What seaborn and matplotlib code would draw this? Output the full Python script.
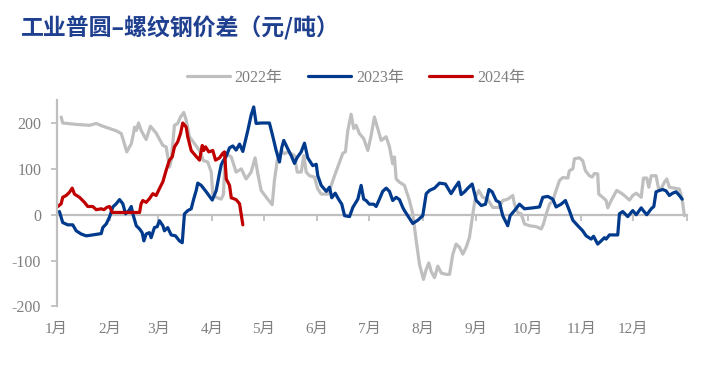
import matplotlib
matplotlib.use("Agg")
import matplotlib.pyplot as plt
import seaborn as sns
import pandas as pd

# ---- data (day of year, spread in 元/吨) ----
day_2022 = [2.7, 3.6, 11.4, 19.1, 23, 26.8, 34.6, 37.5, 38.4, 40.7, 43.3, 44.2, 45.2, 46.3, 47.5, 49, 51.9,
            54.4, 57.7, 61.6, 63.5, 65.4, 66.4, 68.3, 70.2, 71.8, 73.7, 75.1, 77, 79.9, 82.8, 85.1, 87.6,
            89.6, 90.5, 92.5, 95.4, 96.7, 97.3, 98.3, 101.2, 104, 107, 109.8, 112.7, 115, 116.6, 118.5,
            122.3, 124.9, 126.2, 127.8, 130.1, 132, 133.9, 135.9, 137.8, 139.4, 141.7, 143.2, 144.6, 146.5,
            149.4, 151.3, 153.3, 157.1, 159.1, 161, 163.9, 165.8, 167.3, 168.7, 170.6, 172.1, 173.5, 175.4,
            177.9, 180.3, 182.2, 184.1, 186, 188, 190.9, 192.8, 194.7, 195.7, 196.7, 198.6, 201.5, 204.4,
            206.3, 208.3, 210.2, 212.5, 214.1, 215.6, 217, 218.9, 220.8, 222.8, 225.6, 227.6, 229.5, 231.4,
            233.4, 235.3, 237.2, 239.1, 241.1, 242.6, 244.5, 246.8, 249.7, 252.6, 256.5, 258.4, 261.3,
            264.2, 265.2, 267.1, 269.1, 271, 273.9, 277.8, 280.7, 282, 283.6, 285.5, 287.4, 289.3, 291.3,
            293.2, 296.1, 297, 299, 299.9, 302.8, 304.7, 306.3, 308.6, 310.2, 311.5, 313.4, 314, 316.3,
            318.3, 319.2, 321.2, 324.4, 327.9, 331.8, 333.7, 335.7, 338.6, 339.9, 341.8, 343, 344.4, 347.2,
            348.6, 350.1, 352, 353.4, 354.9, 357.8, 360.7, 362.3, 363.6]
val_2022 = [213, 200, 197, 195, 199, 193, 183, 177, 166, 137, 155, 170, 191, 184, 200, 184, 164,
            193, 178, 151, 148, 104, 118, 195, 199, 213, 223, 206, 170, 155, 140, 118, 115,
            93, 45, 38, 34, 45, 104, 133, 126, 93, 100, 78, 93, 124, 89, 53,
            34, 22, 75, 118, 140, 133, 137, 133, 129, 93, 93, 129, 93, 85,
            82, 56, 45, 45, 64, 85, 115, 134, 137, 184, 219, 188, 195, 177,
            166, 140, 173, 213, 188, 162, 170, 148, 111, 126, 78, 71, 64, 31,
            2, -57, -108, -141, -119, -105, -124, -137, -112, -127, -130, -130, -86, -64,
            -71, -86, -71, -50, 2, 38, 53, 38, 34, 16, 16, 31, 34,
            42, 23, 5, 2, -20, -24, -26, -31, -20, 2, 23, 31, 53, 75,
            81, 80, 96, 100, 122, 124, 118, 96, 85, 82, 90, 89, 45, 38,
            31, 15, 31, 53, 45, 32, 42, 47, 38, 80, 80, 60, 85, 85,
            58, 56, 71, 78, 60, 58, 56, 34, -2]

day_2023 = [1.7, 3.6, 6.5, 9.4, 11.4, 14.3, 17.2, 21, 25.9, 26.8, 28.8, 30.7, 32.6, 34.6, 36.5, 38.4, 40,
            41.9, 43.3, 44.2, 46.2, 48.1, 49.6, 50.6, 51.9, 53.8, 54.8, 56.7, 58.3, 59.6, 61.6, 62.5,
            64.4, 66.4, 68.9, 71.2, 72.8, 74.1, 76, 78, 79.5, 80.9, 81.8, 83.8, 86.7, 90.2, 92.5, 94.4,
            95.4, 96.3, 98.3, 100.2, 102.1, 104, 106, 107.9, 110.8, 112.7, 114.2, 115.6, 118.5, 123.3,
            125.3, 127.2, 129.1, 130.5, 131.6, 133.9, 135.9, 137.8, 139.4, 141.7, 143.6, 145.5, 148.4,
            150.4, 151.3, 153.3, 156.2, 158.1, 159.4, 161.4, 163.3, 165.2, 166.8, 169.7, 171.6, 174.5,
            176.4, 177.9, 179.3, 181.2, 183.7, 185.1, 187, 188.9, 190.9, 192.8, 194.7, 196.7, 198.6,
            200.5, 201.5, 203.4, 206.3, 209.2, 212.1, 214.1, 216, 218.9, 221.8, 225.2, 228.5, 230.5,
            232.9, 234.3, 236.3, 238.2, 240.7, 243.1, 246, 248.4, 250.4, 252.3, 254.6, 256.5, 258.4,
            261.3, 262.7, 265.2, 268.1, 271, 275.8, 279.7, 281.6, 284.5, 287.4, 289.3, 292.2, 294.7,
            297, 299, 301.9, 304.7, 306.7, 309.6, 311, 313.4, 315.4, 317.3, 318.3, 320.2, 325, 326,
            327.9, 330.8, 333.7, 335.7, 338.6, 340, 341.8, 344.4, 345.9, 347.2, 349.2, 351.1, 353,
            354.9, 356.8, 358.8, 360.7, 362.3]
val_2023 = [7, -17, -22, -22, -35, -42, -46, -44, -41, -28, -20, -5, 17, 24, 33, 24, 2,
            9, 18, 2, -24, -31, -39, -57, -42, -39, -50, -28, -26, -13, -24, -35,
            -28, -44, -46, -57, -61, 2, 9, 13, 35, 53, 69, 64, 50, 32, 53, 91,
            109, 116, 128, 146, 150, 141, 154, 138, 184, 217, 235, 199, 200, 200,
            170, 140, 115, 147, 162, 144, 129, 112, 125, 137, 156, 124, 107,
            110, 85, 64, 51, 60, 37, 47, 34, 23, -2, -4, 16, 34,
            64, 34, 31, 23, 23, 18, 34, 51, 58, 51, 31, 38, 33,
            16, 9, -2, -19, -12, -2, 46, 53, 58, 69, 67, 46, 58,
            71, 44, 50, 58, 67, 31, 20, 23, 55, 50, 31, 27, -2,
            -24, -2, 9, 23, 13, 15, 17, 38, 40, 34, 17, 23, 31,
            9, -12, -24, -35, -46, -53, -47, -64, -57, -50, -53, -44, -44, 2,
            7, -4, 9, 0, 15, 8, 0, 13, 18, 50, 53, 55, 52,
            42, 47, 50, 42, 34]

day_2024 = [0.8, 2.7, 3.6, 5.6, 7.5, 9.1, 10.4, 13.3, 16.2, 18.1, 21, 23, 25.9, 27.5, 29.1, 30.7, 32.3,
            48.1, 49, 50, 51.9, 53.8, 55.8, 57.7, 59.6, 61.6, 63.5, 65.4, 67, 68.3, 70.2, 71.8, 73.1,
            75.1, 76, 78, 80.9, 82.8, 84.4, 85.2, 86.3, 88.2, 90.5, 92.1, 94.4, 96.3, 97.3, 98.3, 100.2,
            101.2, 104, 106, 107.9]
val_2024 = [18, 24, 38, 42, 49, 58, 45, 38, 27, 18, 18, 11, 13, 11, 16, 18, 5,
            5, 24, 31, 27, 35, 46, 42, 57, 72, 97, 119, 126, 148, 159, 177, 200,
            191, 170, 140, 127, 119, 151, 140, 148, 137, 140, 119, 124, 134, 137, 78, 64,
            37, 33, 24, -22]

series_labels = ["2022年", "2023年", "2024年"]
series_colors = ["#BFBFBF", "#003A8C", "#C00000"]
month_starts = [0, 31, 59, 90, 120, 151, 181, 212, 243, 273, 304, 334]
month_labels = ["1月", "2月", "3月", "4月", "5月", "6月", "7月", "8月", "9月", "10月", "11月", "12月"]
y_ticks = [-200, -100, 0, 100, 200]

sns.set_theme(style="white")
plt.rcParams["font.family"] = ["Liberation Serif", "Noto Sans CJK SC", "DejaVu Sans"]

fig = plt.figure(figsize=(7.09, 3.66), dpi=100)
ax = fig.add_axes([0.0797, 0.1626, 0.889, 0.564])

for d, v, lab, col in zip([day_2022, day_2023, day_2024], [val_2022, val_2023, val_2024],
                          series_labels, series_colors):
    df = pd.DataFrame({"day": d, "value": v})
    sns.lineplot(data=df, x="day", y="value", ax=ax, color=col, linewidth=2.3,
                 label=lab, sort=False, estimator=None)

ax.set_xlim(0, 365)
ax.set_ylim(-200, 250)
ax.set_xlabel("")
ax.set_ylabel("")

gray = "#BFBFBF"
text_gray = "#7F7F7F"
for s in ["top", "right", "bottom"]:
    ax.spines[s].set_visible(False)
ax.spines["left"].set_color(gray)
ax.spines["left"].set_linewidth(1.6)

ax.set_yticks(y_ticks)
ax.set_yticklabels([str(t) for t in y_ticks])
ax.tick_params(axis="y", direction="out", length=4, width=1.3, color=gray,
               labelcolor=text_gray, labelsize=11.5, pad=7, left=True)

ax.set_xticks(month_starts)
ax.set_xticklabels(month_labels)
ax.tick_params(axis="x", length=0, labelcolor=text_gray, labelsize=11, pad=12, bottom=True)

# zero axis line with month tick marks
zero_pos = (0 - (-200)) / (250 - (-200))
sec = ax.secondary_xaxis(zero_pos)
sec.set_alignment("bottom")
sec.spines["bottom"].set_color(gray)
sec.spines["bottom"].set_linewidth(1.6)
sec.set_xticks(month_starts + [365])
sec.set_xticklabels([])
sec.tick_params(axis="x", direction="out", length=4, width=1.3, color=gray)

leg = ax.legend(loc="upper center", bbox_to_anchor=(0.475, 1.215), ncol=3, frameon=False,
                fontsize=11.5, handlelength=2.7, handletextpad=0.3, columnspacing=1.6)
for t in leg.get_texts():
    t.set_color(text_gray)

fig.text(0.03, 0.922, "工业普圆–螺纹钢价差（元/吨）", fontsize=16.5, fontweight="bold",
         color="#1F3F8F", family=["Noto Sans CJK SC", "DejaVu Sans"], va="center", ha="left")

fig.savefig("out.png", dpi=100)
